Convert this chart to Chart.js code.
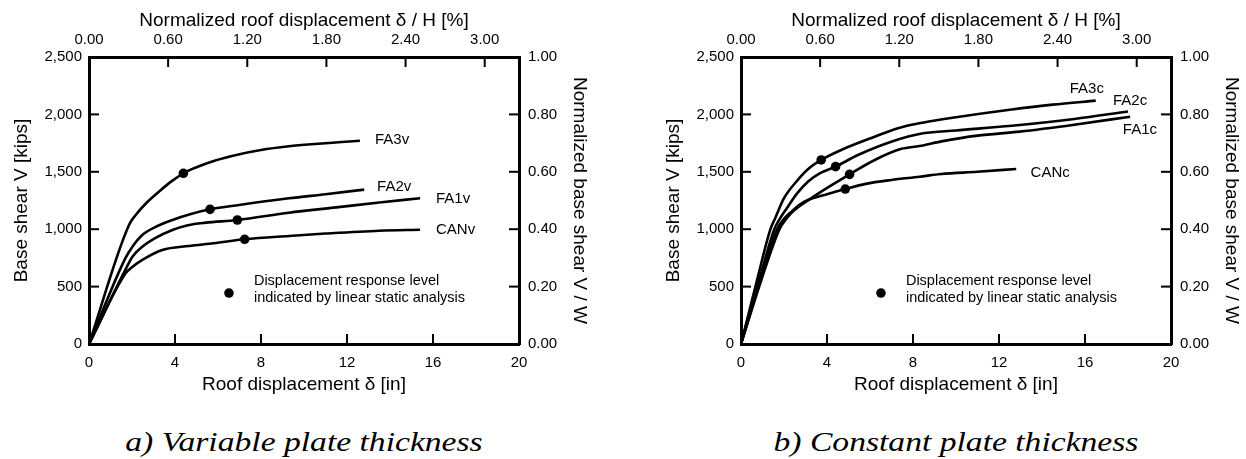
<!DOCTYPE html>
<html>
<head>
<meta charset="utf-8">
<script src="https://cdn.jsdelivr.net/npm/chart.js@4/dist/chart.umd.min.js"></script>
<style>
body{margin:0;width:1246px;height:459px;background:#fff;overflow:hidden;position:relative;}
.panel{position:absolute;top:0;width:594px;height:400px;}
.caption{position:absolute;top:426px;width:400px;text-align:center;font:italic 28px "Liberation Serif","Times New Roman",serif;line-height:32px;transform:scaleX(1.2);white-space:nowrap;color:#000;}
</style>
</head>
<body>
<div class="panel" style="left:0"><canvas id="chartA"></canvas></div>
<div class="panel" style="left:652px"><canvas id="chartB"></canvas></div>
<div class="caption" style="left:104px">a) Variable plate thickness</div>
<div class="caption" style="left:756px">b) Constant plate thickness</div>
<script>
const FONT = '"Liberation Sans", Arial, sans-serif';

// axis ticks
const dispTicks = [0, 4, 8, 12, 16, 20];
const shearTicks = [0, 500, 1000, 1500, 2000, 2500];
const driftTicks = [0, 0.6, 1.2, 1.8, 2.4, 3.0];
const ratioTicks = [0, 0.2, 0.4, 0.6, 0.8, 1.0];
const driftAxisMax = 3.26; // delta/H [%] at 20 in

// a) variable plate thickness
const dispFA3v = [0, 1.86, 2.2, 2.7, 3.3, 3.8, 4.39, 5.0, 5.8, 6.8, 8, 9.3, 10.5, 11.6, 12.6];
const shearFA3v = [0, 1037, 1130, 1235, 1335, 1412, 1487, 1540, 1595, 1645, 1690, 1722, 1742, 1757, 1770];
const dispFA2v = [0, 1.7, 2.02, 2.48, 3.1, 3.88, 4.7, 5.63, 6.98, 9.3, 11, 12.8];
const shearFA2v = [0, 750, 848, 949, 1020, 1080, 1130, 1173, 1211, 1269, 1305, 1345];
const dispFA1v = [0, 1.7, 2.02, 2.48, 3.1, 3.88, 4.6, 5.43, 6.9, 9.3, 11.5, 13.5, 15.4];
const shearFA1v = [0, 650, 761, 848, 925, 993, 1035, 1057, 1080, 1144, 1190, 1232, 1270];
const dispCANv = [0, 1.7, 1.94, 2.48, 3.41, 4.65, 5.8, 7.24, 9.3, 11, 13.5, 15.4];
const shearCANv = [0, 616, 659, 732, 819, 854, 877, 912, 941, 962, 987, 995];
const namesA = ['FA3v', 'FA2v', 'FA1v', 'CANv'];
const dotDispA = [4.39, 5.63, 6.9, 7.24];
const dotShearA = [1487, 1173, 1080, 912];

// b) constant plate thickness
const dispFA3c = [0, 0.75, 1.37, 1.6, 2.0, 2.6, 3.1, 3.73, 4.66, 6.22, 7.3, 8.5, 10, 12.5, 14.5, 16.5];
const shearFA3c = [0, 560, 1000, 1100, 1270, 1420, 1520, 1603, 1690, 1806, 1880, 1930, 1975, 2040, 2085, 2120];
const dispFA2c = [0, 0.85, 1.55, 1.8, 2.18, 2.6, 3.11, 3.7, 4.4, 5.44, 6.99, 8.47, 10, 12.96, 15.5, 18];
const shearFA2c = [0, 560, 1000, 1090, 1196, 1310, 1414, 1490, 1545, 1646, 1762, 1835, 1860, 1908, 1960, 2025];
const dispFA1c = [0, 0.95, 1.79, 2.1, 2.49, 3.26, 4.1, 5.05, 6.22, 7.46, 8.3, 9.32, 11, 12.96, 15.5, 18.1];
const shearFA1c = [0, 560, 1000, 1090, 1167, 1269, 1370, 1478, 1603, 1700, 1725, 1765, 1815, 1850, 1910, 1980];
const dispCANc = [0, 0.9, 1.68, 2.0, 2.33, 2.7, 3.11, 4, 4.85, 5.8, 6.99, 8.3, 9.32, 11, 12.8];
const shearCANc = [0, 560, 1000, 1090, 1150, 1210, 1254, 1305, 1350, 1395, 1429, 1457, 1481, 1500, 1525];
const namesB = ['FA3c', 'FA2c', 'FA1c', 'CANc'];
const dotDispB = [3.73, 4.4, 5.05, 4.85];
const dotShearB = [1603, 1545, 1478, 1350];

// curve name placement (data units: left edge of text, middle of text)
const noteXA = [13.3, 13.4, 16.14, 16.14];
const noteYA = [1777, 1368, 1263, 993];
const noteXB = [15.29, 17.3, 17.76, 13.47];
const noteYB = [2221, 2117, 1868, 1494];

function toPoints(xs, ys) {
    return xs.map((x, i) => ({x: x, y: ys[i]}));
}

function curve(xs, ys) {
    return {
        data: toPoints(xs, ys),
        borderColor: '#000',
        borderWidth: 2.6,
        pointRadius: 0,
        fill: false,
        cubicInterpolationMode: 'monotone'
    };
}

function fixedTicks(values) {
    return function(scale) {
        scale.ticks = values.map(v => ({value: v}));
    };
}

// short tick marks pointing into the plot
const innerTicks = {
    id: 'innerTicks',
    afterDraw(chart) {
        const ctx = chart.ctx;
        const a = chart.chartArea;
        const len = 10;
        ctx.save();
        ctx.fillStyle = '#000';
        dispTicks.slice(1, -1).forEach(v => {
            const p = chart.scales.x.getPixelForValue(v);
            ctx.fillRect(p - 1, a.bottom - len, 2, len);
        });
        driftTicks.slice(1).forEach(v => {
            const p = chart.scales.xTop.getPixelForValue(v);
            ctx.fillRect(p - 1, a.top, 2, len);
        });
        shearTicks.slice(1, -1).forEach(v => {
            const p = chart.scales.y.getPixelForValue(v);
            ctx.fillRect(a.left, p - 1, len, 2);
        });
        ratioTicks.slice(1, -1).forEach(v => {
            const p = chart.scales.yRight.getPixelForValue(v);
            ctx.fillRect(a.right - len, p - 1, len, 2);
        });
        ctx.restore();
    }
};

function notesPlugin(names, nx, ny) {
    return {
        id: 'notes',
        afterDatasetsDraw(chart) {
            const ctx = chart.ctx;
            const xs = chart.scales.x, ys = chart.scales.y;
            ctx.save();
            ctx.fillStyle = '#000';
            ctx.textBaseline = 'middle';
            ctx.textAlign = 'left';
            ctx.font = '15px ' + FONT;
            names.forEach((n, i) => {
                ctx.fillText(n, xs.getPixelForValue(nx[i]), ys.getPixelForValue(ny[i]));
            });
            // marker key
            ctx.beginPath();
            ctx.arc(xs.getPixelForValue(6.51), ys.getPixelForValue(444), 4.8, 0, Math.PI * 2);
            ctx.fill();
            ctx.font = '14.5px ' + FONT;
            ctx.fillText('Displacement response level', xs.getPixelForValue(7.67), ys.getPixelForValue(552));
            ctx.fillText('indicated by linear static analysis', xs.getPixelForValue(7.67), ys.getPixelForValue(400));
            ctx.restore();
        }
    };
}

function buildScales() {
    const tickFont = {family: FONT, size: 15};
    const titleFont = {family: FONT, size: 19};
    const border = {display: true, color: '#000', width: 3};
    const grid = {display: false, drawTicks: false};
    return {
        x: {
            type: 'linear', position: 'bottom', min: 0, max: 20,
            afterBuildTicks: fixedTicks(dispTicks),
            afterFit(s) { s.height = 56; },
            grid: grid, border: border,
            ticks: {color: '#000', font: tickFont, padding: 10, maxRotation: 0, callback: v => String(v)},
            title: {display: true, text: 'Roof displacement δ [in]', color: '#000', font: titleFont, padding: {top: 0, bottom: 4}}
        },
        xTop: {
            type: 'linear', position: 'top', min: 0, max: driftAxisMax,
            afterBuildTicks: fixedTicks(driftTicks),
            afterFit(s) { s.height = 57; },
            grid: grid, border: border,
            ticks: {color: '#000', font: tickFont, padding: 8, maxRotation: 0, callback: v => v.toFixed(2)},
            title: {display: true, text: 'Normalized roof displacement δ / H [%]', color: '#000', font: titleFont, padding: {top: 9, bottom: 0}}
        },
        y: {
            type: 'linear', position: 'left', min: 0, max: 2500,
            afterBuildTicks: fixedTicks(shearTicks),
            afterFit(s) { s.width = 89; },
            grid: grid, border: border,
            ticks: {color: '#000', font: tickFont, padding: 7, callback: v => v.toLocaleString('en-US')},
            title: {display: true, text: 'Base shear V [kips]', color: '#000', font: titleFont, padding: {top: 10, bottom: 0}}
        },
        yRight: {
            type: 'linear', position: 'right', min: 0, max: 1,
            afterBuildTicks: fixedTicks(ratioTicks),
            afterFit(s) { s.width = 75; },
            grid: grid, border: border,
            ticks: {color: '#000', font: tickFont, padding: 9, callback: v => v.toFixed(2)},
            title: {display: true, text: 'Normalized base shear V / W', color: '#000', font: titleFont, padding: {top: 3, bottom: 0}}
        }
    };
}

function drawPanel(canvasId, curves, dotX, dotY, names, nx, ny) {
    const datasets = curves.map(c => curve(c[0], c[1]));
    datasets.push({
        data: toPoints(dotX, dotY),
        showLine: false,
        pointRadius: 4.8,
        pointBackgroundColor: '#000',
        pointBorderWidth: 0
    });
    new Chart(document.getElementById(canvasId), {
        type: 'line',
        data: {datasets: datasets},
        options: {
            responsive: true,
            maintainAspectRatio: false,
            animation: false,
            layout: {padding: 0},
            scales: buildScales(),
            plugins: {legend: {display: false}, tooltip: {enabled: false}}
        },
        plugins: [innerTicks, notesPlugin(names, nx, ny)]
    });
}

drawPanel('chartA',
    [[dispFA3v, shearFA3v], [dispFA2v, shearFA2v], [dispFA1v, shearFA1v], [dispCANv, shearCANv]],
    dotDispA, dotShearA, namesA, noteXA, noteYA);
drawPanel('chartB',
    [[dispFA3c, shearFA3c], [dispFA2c, shearFA2c], [dispFA1c, shearFA1c], [dispCANc, shearCANc]],
    dotDispB, dotShearB, namesB, noteXB, noteYB);
</script>
</body>
</html>
